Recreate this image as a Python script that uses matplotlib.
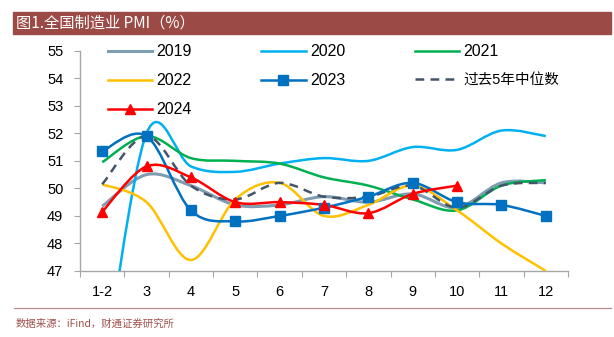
import matplotlib
matplotlib.use("Agg")
import matplotlib.pyplot as plt
from matplotlib.path import Path
from matplotlib.patches import PathPatch, Rectangle
from matplotlib.lines import Line2D
import numpy as np

plt.rcParams['font.family'] = ['Liberation Sans', 'Noto Sans CJK SC', 'DejaVu Sans']

categories = ["1-2", "3", "4", "5", "6", "7", "8", "9", "10", "11", "12"]
pmi_2019 = [49.35, 50.5, 50.1, 49.4, 49.4, 49.7, 49.5, 49.8, 49.3, 50.2, 50.2]
pmi_2020 = [42.85, 52.0, 50.8, 50.6, 50.9, 51.1, 51.0, 51.5, 51.4, 52.1, 51.9]
pmi_2021 = [50.95, 51.9, 51.1, 51.0, 50.9, 50.4, 50.1, 49.6, 49.2, 50.1, 50.3]
pmi_2022 = [50.15, 49.5, 47.4, 49.6, 50.2, 49.0, 49.4, 50.1, 49.2, 48.0, 47.0]
pmi_2023 = [51.35, 51.9, 49.2, 48.8, 49.0, 49.3, 49.7, 50.2, 49.5, 49.4, 49.0]
pmi_2024 = [49.15, 50.8, 50.4, 49.5, 49.5, 49.4, 49.1, 49.8, 50.1]
median_5y = [50.15, 51.9, 50.1, 49.6, 50.2, 49.7, 49.7, 50.1, 49.3, 50.1, 50.2]

W, H = 614, 337
fig = plt.figure(figsize=(W / 100, H / 100), dpi=100)

def fx(px):
    return px / W

def fy(py):
    return 1 - py / H

# title bar
fig.patches.append(Rectangle((fx(13), fy(34)), fx(611) - fx(13), fy(12) - fy(34),
                             transform=fig.transFigure, color='#9B4A45', zorder=0))
fig.text(fx(16), fy(23), "图1.全国制造业 PMI（%）", color='white', fontsize=11,
         va='center', ha='left', family=['Noto Sans CJK SC', 'DejaVu Sans'])
# bottom rule and source
fig.add_artist(Line2D([fx(14), fx(611)], [fy(308), fy(308)], transform=fig.transFigure,
                      color='#B98C89', lw=0.9))
fig.text(fx(16), fy(324), "数据来源：iFind，财通证券研究所", color='#A0524D', fontsize=7.5,
         va='center', ha='left', family=['Noto Sans CJK SC', 'DejaVu Sans'])

ax = fig.add_axes([fx(80), fy(271), fx(568) - fx(80), fy(50.7) - fy(271)])
ax.set_xlim(0, len(categories))
ax.set_ylim(47, 55)

def smooth_path(xs, ys):
    xs = np.asarray(xs, float)
    ys = np.asarray(ys, float)
    n = len(xs)
    verts = [(xs[0], ys[0])]
    codes = [Path.MOVETO]
    for i in range(n - 1):
        p0 = (xs[max(i - 1, 0)], ys[max(i - 1, 0)])
        p1 = (xs[i], ys[i])
        p2 = (xs[i + 1], ys[i + 1])
        p3 = (xs[min(i + 2, n - 1)], ys[min(i + 2, n - 1)])
        c1 = (p1[0] + (p2[0] - p0[0]) / 6, p1[1] + (p2[1] - p0[1]) / 6)
        c2 = (p2[0] - (p3[0] - p1[0]) / 6, p2[1] - (p3[1] - p1[1]) / 6)
        verts += [c1, c2, p2]
        codes += [Path.CURVE4] * 3
    return Path(verts, codes)

dash = (0, (3.5, 2.5))
series = [
    ("2019", pmi_2019, '#7F9DB1', '-', None, 2.2),
    ("2020", pmi_2020, '#00B0F0', '-', None, 1.8),
    ("2021", pmi_2021, '#00B050', '-', None, 1.8),
    ("2022", pmi_2022, '#FFC000', '-', None, 1.8),
    ("2023", pmi_2023, '#0070C0', '-', 's', 1.8),
    ("过去5年中位数", median_5y, '#44546A', dash, None, 1.8),
    ("2024", pmi_2024, '#FF0000', '-', '^', 1.8),
]

handles = {}
for name, vals, color, ls, marker, lw in series:
    xs = np.arange(len(vals)) + 0.5
    patch = PathPatch(smooth_path(xs, vals), facecolor='none', edgecolor=color,
                      lw=lw, linestyle=ls,
                      zorder=4 if name in ("2023", "2024") else 3)
    ax.add_patch(patch)
    if marker:
        ax.plot(xs, vals, linestyle='none', marker=marker, color=color, markersize=7.5, zorder=5)
    handles[name] = Line2D([], [], color=color, lw=lw, linestyle=ls,
                           marker=marker, markersize=7.5)

order = ["2019", "2022", "2024", "2020", "2023", "2021", "过去5年中位数"]
leg = ax.legend([handles[k] for k in order], order, ncol=3, frameon=False,
                loc='upper left', bbox_to_anchor=(0.027, 1.095),
                bbox_transform=ax.transAxes, handlelength=2.8,
                handletextpad=0.25, columnspacing=4.35, labelspacing=0.88,
                prop={'family': ['Liberation Sans', 'Noto Sans CJK SC'], 'size': 11.5})
for t in leg.get_texts():
    if t.get_text() == "过去5年中位数":
        t.set_fontsize(10.5)

ax.set_yticks(np.arange(47, 56, 1))
ax.set_yticklabels([str(v) for v in range(47, 56)], fontsize=10.5)
ax.set_xticks(np.arange(0, len(categories) + 1))
ax.set_xticklabels([])
ax.set_xticks(np.arange(len(categories)) + 0.5, minor=True)
ax.set_xticklabels(categories, minor=True, fontsize=10.5)
ax.tick_params(axis='x', which='minor', length=0, pad=10)
ax.tick_params(axis='x', which='major', length=4, color='#A6A6A6', direction='out')
ax.tick_params(axis='y', length=4, color='#A6A6A6', pad=8)
for s in ['top', 'right']:
    ax.spines[s].set_visible(False)
for s in ['left', 'bottom']:
    ax.spines[s].set_color('#A6A6A6')
    ax.spines[s].set_linewidth(1.0)

fig.savefig("out.png", dpi=100)
